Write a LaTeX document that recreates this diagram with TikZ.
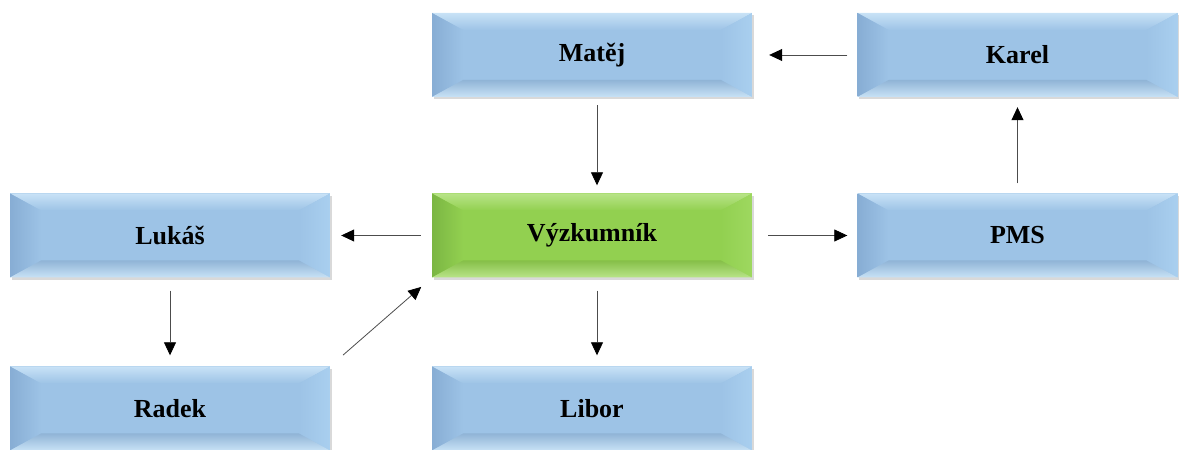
\documentclass[tikz,border=0pt]{standalone}
\usepackage{fontspec}
\setmainfont{Liberation Serif}
\usetikzlibrary{arrows.meta,shadows}

\definecolor{bluface}{HTML}{9DC3E6}
\definecolor{blutop}{HTML}{C8E2F6}
\definecolor{bluleft}{HTML}{87ADD4}
\definecolor{bluright}{HTML}{A9CFEF}
\definecolor{blubottom}{HTML}{90B4D6}
\definecolor{grnface}{HTML}{92D050}
\definecolor{grntop}{HTML}{B8E488}
\definecolor{grnleft}{HTML}{7BB643}
\definecolor{grnright}{HTML}{9ED860}
\definecolor{grnbottom}{HTML}{86BF48}

\tikzset{
    bevel/.style={minimum width=320pt, minimum height=84pt, inner sep=0pt,
        font=\fontsize{26}{30}\selectfont\bfseries,
        drop shadow={shadow xshift=1.5pt, shadow yshift=-2.5pt, opacity=0.3},
        path picture={
            \fill[#1face] (path picture bounding box.south west) rectangle (path picture bounding box.north east);
            \shade[top color=#1top, bottom color=#1face] (path picture bounding box.north west) -- (path picture bounding box.north east)
                -- ([xshift=-31pt,yshift=-17pt]path picture bounding box.north east) -- ([xshift=31pt,yshift=-17pt]path picture bounding box.north west) -- cycle;
            \shade[left color=#1left, right color=#1face] (path picture bounding box.south west) -- (path picture bounding box.north west)
                -- ([xshift=31pt,yshift=-17pt]path picture bounding box.north west) -- ([xshift=31pt,yshift=17pt]path picture bounding box.south west) -- cycle;
            \shade[left color=#1face, right color=#1right] (path picture bounding box.south east) -- (path picture bounding box.north east)
                -- ([xshift=-31pt,yshift=-17pt]path picture bounding box.north east) -- ([xshift=-31pt,yshift=17pt]path picture bounding box.south east) -- cycle;
            \shade[top color=#1bottom, bottom color=#1top] (path picture bounding box.south west) -- (path picture bounding box.south east)
                -- ([xshift=-31pt,yshift=17pt]path picture bounding box.south east) -- ([xshift=31pt,yshift=17pt]path picture bounding box.south west) -- cycle;
        }},
    arr/.style={-{Triangle[length=13pt,width=12pt,black]}, line width=0.8pt, black!70, shorten <=11pt, shorten >=11pt}
}

\begin{document}
\begin{tikzpicture}[x=1pt, y=1pt]
    \useasboundingbox (0, 0) rectangle (1179, 450);
    \node [bevel=blu] (matej) at (592, 395) {Matěj};
    \node [bevel=blu] (karel) at (1017.5, 395) {Karel};
    \node [bevel=blu] (lukas) at (170, 214.5) {Lukáš};
    \node [bevel=grn] (vyzkumnik) at (592, 214.5) {Výzkumník};
    \node [bevel=blu] (pms) at (1017.5, 214.5) {PMS};
    \node [bevel=blu] (radek) at (170, 41.5) {Radek};
    \node [bevel=blu] (libor) at (592, 41.5) {Libor};

    \draw [arr, shorten <=10pt, shorten >=17pt] (karel) -- (matej);
    \draw [arr, shorten <=8pt, shorten >=8pt] ([xshift=5pt]matej.south) -- ([xshift=5pt]vyzkumnik.north);
    \draw [arr] (vyzkumnik) -- (lukas);
    \draw [arr, shorten <=16pt, shorten >=10pt] (vyzkumnik) -- (pms);
    \draw [arr, shorten <=10pt, shorten >=10pt] (pms) -- (karel);
    \draw [arr, shorten <=13pt] (lukas) -- (radek);
    \draw [arr, shorten <=13pt] ([xshift=5pt]vyzkumnik.south) -- ([xshift=5pt]libor.north);
    \draw [arr, shorten <=17pt, shorten >=14pt] (radek.north east) -- (vyzkumnik.south west);
\end{tikzpicture}
\end{document}
